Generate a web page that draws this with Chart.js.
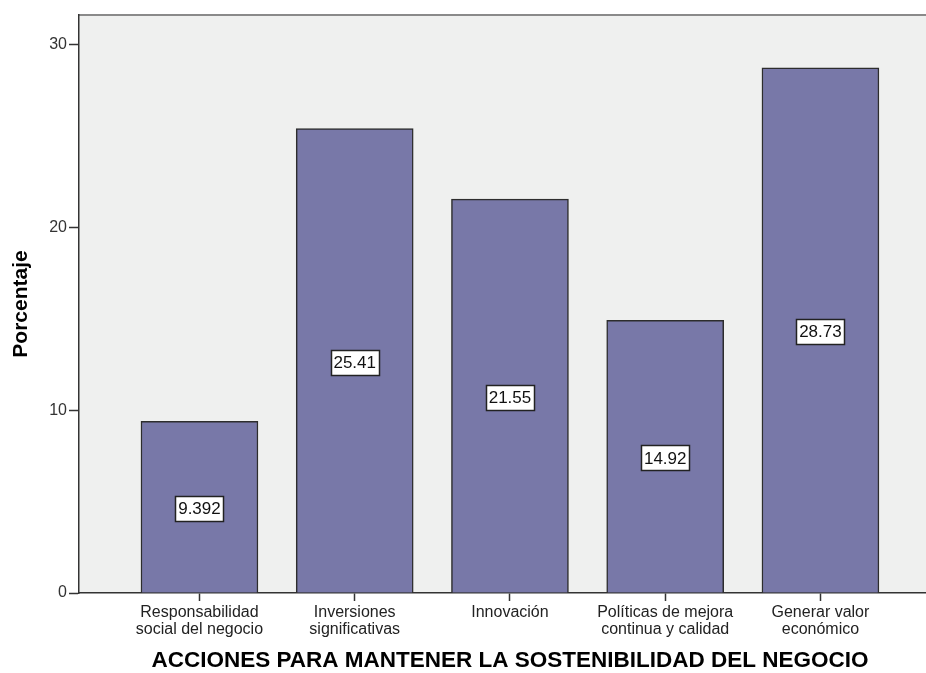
<!DOCTYPE html>
<html>
<head>
<meta charset="utf-8">
<script src="https://cdn.jsdelivr.net/npm/chart.js@4"></script>
<style>
  body { margin: 0; background: #fff; overflow: hidden; }
  .report__chart { width: 926px; height: 673px; }
</style>
</head>
<body>
<div class="report__chart"><canvas id="chart"></canvas></div>
<script>
const categories = [
    ['Responsabilidad', 'social del negocio'],
    ['Inversiones', 'significativas'],
    ['Innovación'],
    ['Políticas de mejora', 'continua y calidad'],
    ['Generar valor', 'económico']
];
const percentages = [9.392, 25.41, 21.55, 14.92, 28.73];
const yTicks = [0, 10, 20, 30];
const xTitle = 'ACCIONES PARA MANTENER LA SOSTENIBILIDAD DEL NEGOCIO';

const fontFamily = "'Liberation Sans', Arial, sans-serif";
Chart.defaults.font.family = fontFamily;

// light grey plot background and the grey top frame line
const plotFrame = {
    id: 'plotFrame',
    beforeDraw(chart) {
        const {ctx, chartArea: a} = chart;
        ctx.save();
        ctx.fillStyle = '#eff0ef';
        ctx.fillRect(a.left, a.top, a.right - a.left, a.bottom - a.top);
        ctx.strokeStyle = '#8a8a8a';
        ctx.lineWidth = 2;
        ctx.beginPath();
        ctx.moveTo(a.left, a.top);
        ctx.lineTo(a.right, a.top);
        ctx.stroke();
        ctx.restore();
    }
};

// boxed value label in the middle of each bar
const barLabels = {
    id: 'barLabels',
    afterDatasetsDraw(chart) {
        const {ctx} = chart;
        const meta = chart.getDatasetMeta(0);
        ctx.save();
        ctx.font = '17px ' + fontFamily;
        ctx.textAlign = 'center';
        ctx.textBaseline = 'middle';
        meta.data.forEach((bar, i) => {
            const text = percentages[i].toPrecision(4);
            const w = Math.round(ctx.measureText(text).width + 5);
            const h = 25;
            const cy = (bar.y + bar.base) / 2 + 1.5;
            const x0 = Math.round(bar.x - w / 2) + 0.5;
            const y0 = Math.round(cy - h / 2) + 0.5;
            ctx.fillStyle = '#fff';
            ctx.fillRect(x0, y0, w, h);
            ctx.strokeStyle = '#222';
            ctx.lineWidth = 1.5;
            ctx.strokeRect(x0, y0, w, h);
            ctx.fillStyle = '#111';
            ctx.fillText(text, bar.x, cy + 1);
        });
        ctx.restore();
    }
};

// x axis title, centred on the full plot frame (which runs ~15px past the canvas)
const xAxisTitle = {
    id: 'xAxisTitle',
    afterDraw(chart) {
        const {ctx, chartArea: a} = chart;
        ctx.save();
        ctx.font = 'bold 22.5px ' + fontFamily;
        ctx.fillStyle = '#000';
        ctx.textAlign = 'center';
        ctx.textBaseline = 'middle';
        ctx.fillText(xTitle, (a.left + a.right + 15) / 2, 661);
        ctx.restore();
    }
};

const ctx = document.getElementById('chart').getContext('2d');

new Chart(ctx, {
    type: 'bar',
    data: {
        datasets: [{
            data: percentages.map((v, i) => ({x: i, y: v})),
            backgroundColor: '#7878a8',
            borderColor: '#2d2d2d',
            borderWidth: 1.5,
            barThickness: 117
        }]
    },
    options: {
        responsive: true,
        maintainAspectRatio: false,
        animation: false,
        layout: {padding: {top: 15, right: 0, left: 0, bottom: 0}},
        plugins: {
            legend: {display: false},
            tooltip: {enabled: false}
        },
        scales: {
            x: {
                type: 'linear',
                offset: false,
                min: -0.776,
                max: 4.68,
                afterBuildTicks: axis => {
                    axis.ticks = categories.map((c, i) => ({value: i}));
                },
                afterFit: scale => { scale.height = 80; },
                grid: {
                    offset: false,
                    drawOnChartArea: false,
                    drawTicks: true,
                    tickLength: 8,
                    tickColor: '#333',
                    tickWidth: 1.5
                },
                border: {display: true, color: '#333', width: 1.5},
                ticks: {
                    autoSkip: false,
                    maxRotation: 0,
                    padding: 3,
                    color: '#222',
                    font: {size: 16, lineHeight: 1.05},
                    callback: value => categories[value]
                }
            },
            y: {
                min: 0,
                max: 31.62,
                afterBuildTicks: axis => {
                    axis.ticks = yTicks.map(v => ({value: v}));
                },
                afterFit: scale => { scale.width = 79; },
                grid: {
                    drawOnChartArea: false,
                    drawTicks: true,
                    tickLength: 10,
                    tickColor: '#333',
                    tickWidth: 1.5
                },
                border: {display: true, color: '#333', width: 1.5},
                ticks: {
                    padding: 2,
                    color: '#333',
                    font: {size: 16}
                },
                title: {
                    display: true,
                    text: 'Porcentaje',
                    color: '#000',
                    font: {size: 21, weight: 'bold'},
                    padding: {top: 9, bottom: 0}
                }
            }
        }
    },
    plugins: [plotFrame, barLabels, xAxisTitle]
});
</script>
</body>
</html>
